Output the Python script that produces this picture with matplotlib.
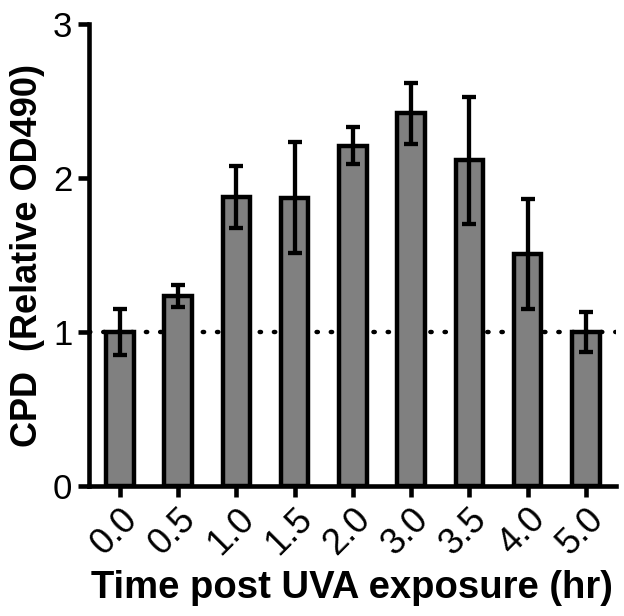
import matplotlib
matplotlib.use("Agg")
import matplotlib.pyplot as plt
import numpy as np

categories = ["0.0", "0.5", "1.0", "1.5", "2.0", "3.0", "3.5", "4.0", "5.0"]
values = [1.00, 1.235, 1.878, 1.873, 2.211, 2.419, 2.114, 1.508, 1.00]
errors = [0.15, 0.07, 0.20, 0.36, 0.12, 0.20, 0.41, 0.357, 0.13]
yticks = [0, 1, 2, 3]

plt.rcParams['font.family'] = ['Liberation Sans', 'DejaVu Sans']

fig = plt.figure(figsize=(6.24, 6.16), dpi=100)
ax = fig.add_axes([0.1426, 0.211, 0.987 - 0.1426, 0.961 - 0.211])

x = np.arange(len(categories))
ax.axhline(1.0, color='black', linestyle=(0, (0.3, 2.9)), linewidth=3.2,
           dash_capstyle='round', zorder=1)
ax.bar(x, values, width=0.47, color='#808080', edgecolor='black',
       linewidth=3.2, zorder=2)
ax.errorbar(x, values, yerr=errors, fmt='none', ecolor='black',
            elinewidth=3.1, capsize=4.7, capthick=3.1, zorder=3)

ax.set_xlim(-0.53, 8.515)
ax.set_ylim(0, 3)
ax.set_yticks(yticks)
ax.set_yticklabels([str(t) for t in yticks], fontsize=25)
ax.set_xticks(x)
ax.set_xticklabels(categories, rotation=45, ha='right', va='top',
                   rotation_mode='anchor', fontsize=26)

for s in ['top', 'right']:
    ax.spines[s].set_visible(False)
for s in ['left', 'bottom']:
    ax.spines[s].set_linewidth(3.3)
ax.tick_params(axis='both', width=3.3, length=8, direction='out')
ax.tick_params(axis='y', pad=4)
ax.tick_params(axis='x', pad=3)

ax.set_ylabel("CPD  (Relative OD490)", fontsize=26, fontweight='bold', labelpad=6)
ax.set_xlabel("Time post UVA exposure (hr)", fontsize=27.5, fontweight='bold', labelpad=6)

fig.savefig("out.png", dpi=100)
